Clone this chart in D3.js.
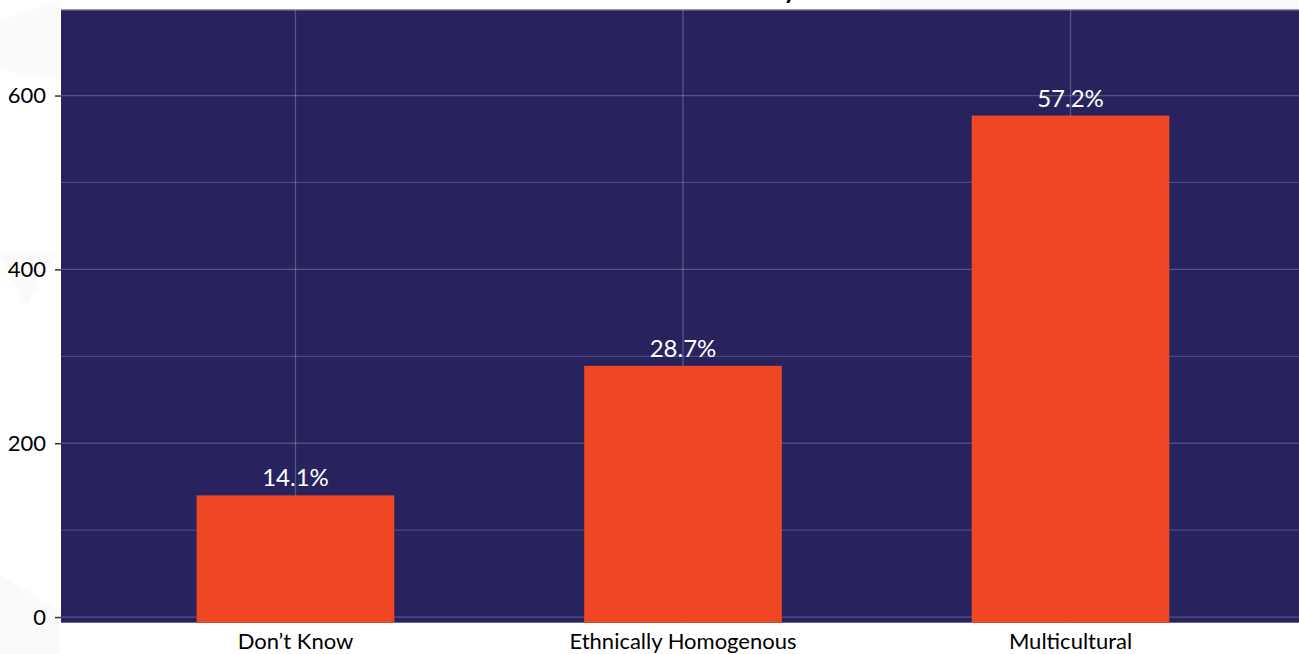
<!DOCTYPE html>
<html>
<head>
<meta charset="utf-8">
<script src="https://cdn.jsdelivr.net/npm/d3@7"></script>
<style>
  html, body { margin: 0; padding: 0; background: #ffffff; }
  svg { display: block; }
</style>
</head>
<body>
<svg id="chart" width="1299" height="654"></svg>
<script>
// ---- data ----
const categories = ["Don\u2019t Know", "Ethnically Homogenous", "Multicultural"];
const counts = [140, 289, 577];
const percentLabels = ["14.1%", "28.7%", "57.2%"];
const majorTicks = [0, 200, 400, 600];
const minorTicks = [100, 300, 500];
const titleText = "Preferred Society";

// ---- layout ----
const W = 1299, H = 654;
const plot = { left: 61, right: 1305, top: 9.5, bottom: 622.7 };
const bg = "#28235f";
const barColor = "#ef4623";
const fontFam = "Lato, 'Open Sans', sans-serif";

const svg = d3.select("#chart");

// faint watermark shapes in the white margin
const wm = svg.append("g").attr("fill", "#fafafa");
wm.append("path").attr("d", "M0,20 L60,0 L60,80 L0,70 Z");
wm.append("path").attr("d", "M0,255 L58,255 L26,305 Z");
wm.append("path").attr("d", "M0,575 L60,610 L60,654 L0,654 Z");
wm.append("path").attr("d", "M880,0 L1299,0 L1299,9 L880,9 Z");

const x = d3.scaleBand()
  .domain(categories)
  .range([plot.left, plot.right])
  .paddingInner(0.49)
  .paddingOuter(0.35);

const y = d3.scaleLinear()
  .domain([-6.5, 699])
  .range([plot.bottom, plot.top]);

// title (mostly cut off at top, as in the reference)
svg.append("text")
  .attr("x", 797).attr("y", -1)
  .attr("text-anchor", "end")
  .attr("font-family", fontFam)
  .attr("font-size", 26)
  .attr("font-weight", "bold")
  .attr("fill", "#000")
  .text(titleText);

// plot background
svg.append("rect")
  .attr("x", plot.left).attr("y", plot.top)
  .attr("width", plot.right - plot.left)
  .attr("height", plot.bottom - plot.top)
  .attr("fill", bg);

const grid = svg.append("g");
grid.selectAll("line.minor").data(minorTicks).join("line")
  .attr("class", "minor")
  .attr("x1", plot.left).attr("x2", plot.right)
  .attr("y1", d => y(d)).attr("y2", d => y(d))
  .attr("stroke", "rgba(255,255,255,0.17)").attr("stroke-width", 1.2);
grid.selectAll("line.major").data(majorTicks).join("line")
  .attr("class", "major")
  .attr("x1", plot.left).attr("x2", plot.right)
  .attr("y1", d => y(d)).attr("y2", d => y(d))
  .attr("stroke", "rgba(255,255,255,0.22)").attr("stroke-width", 1.3);
grid.append("line")
  .attr("x1", plot.left).attr("x2", plot.right)
  .attr("y1", plot.top + 0.8).attr("y2", plot.top + 0.8)
  .attr("stroke", "rgba(255,255,255,0.2)").attr("stroke-width", 1.3);
grid.selectAll("line.v").data(categories).join("line")
  .attr("class", "v")
  .attr("x1", d => x(d) + x.bandwidth() / 2).attr("x2", d => x(d) + x.bandwidth() / 2)
  .attr("y1", plot.top).attr("y2", plot.bottom)
  .attr("stroke", "rgba(255,255,255,0.22)").attr("stroke-width", 1.3);

// bars
svg.append("g").selectAll("rect").data(categories).join("rect")
  .attr("x", d => x(d))
  .attr("width", x.bandwidth())
  .attr("y", (d, i) => y(counts[i]))
  .attr("height", (d, i) => y.range()[0] - y(counts[i]))
  .attr("fill", barColor);

// bar labels
svg.append("g").selectAll("text").data(categories).join("text")
  .attr("x", d => x(d) + x.bandwidth() / 2)
  .attr("y", (d, i) => y(counts[i]) - 9)
  .attr("text-anchor", "middle")
  .attr("font-family", fontFam)
  .attr("font-size", 24)
  .attr("fill", "#ffffff")
  .text((d, i) => percentLabels[i]);

// y axis
const yAxis = d3.axisLeft(y).tickValues(majorTicks).tickSize(6).tickPadding(9);
const gy = svg.append("g").attr("transform", `translate(${plot.left},0)`).call(yAxis);
gy.select(".domain").remove();
gy.selectAll(".tick line").attr("stroke", "#333").attr("stroke-width", 1.5);
gy.selectAll(".tick text")
  .attr("font-family", fontFam).attr("font-size", 22).attr("fill", "#000");

// x axis labels
const xAxis = d3.axisBottom(x).tickSize(0).tickPadding(11);
const gx = svg.append("g").attr("transform", `translate(0,${plot.bottom})`).call(xAxis);
gx.select(".domain").remove();
gx.selectAll(".tick text")
  .attr("font-family", fontFam).attr("font-size", 22).attr("fill", "#000");
</script>
</body>
</html>
